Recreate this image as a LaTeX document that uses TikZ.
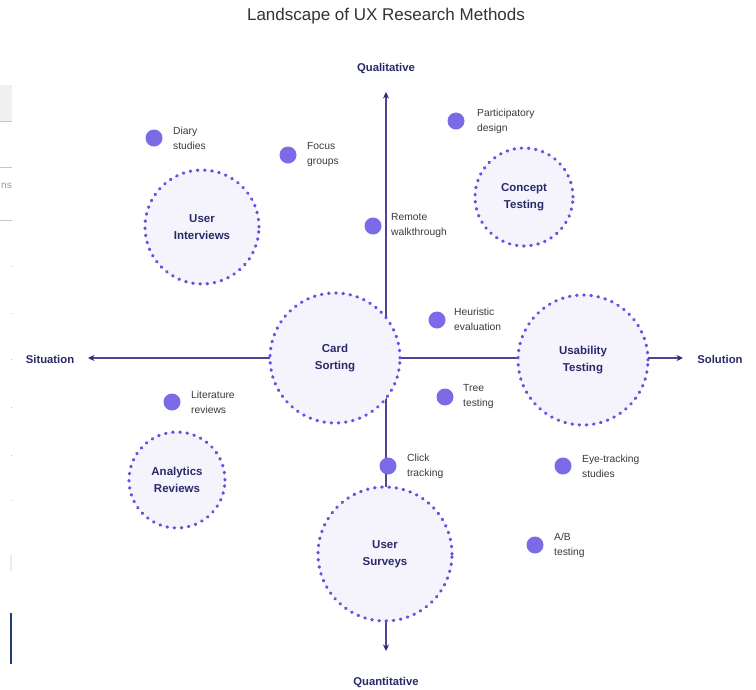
\documentclass[tikz,border=0pt]{standalone}
\usepackage{fontspec}
\setmainfont{Liberation Sans}
\usetikzlibrary{arrows.meta}
\definecolor{axiscol}{HTML}{4A4790}
\definecolor{tipcol}{HTML}{2A2A78}
\definecolor{navy}{HTML}{2A2A6A}
\definecolor{dotcol}{HTML}{7B6BE6}
\definecolor{ringcol}{HTML}{6650DE}
\definecolor{ringfill}{HTML}{F5F4FD}
\definecolor{smalltext}{HTML}{3A3A3A}
\definecolor{barcol}{HTML}{1F3A6E}
\tikzset{
  method/.style={circle, draw=ringcol, fill=ringfill, line width=3.2pt,
    dash pattern=on 0.6pt off 6.6pt, line cap=round, inner sep=0pt,
    font=\bfseries\fontsize{11.5}{17.5}\selectfont, text=navy, align=center},
  pin/.style={circle, fill=dotcol, minimum size=17pt, inner sep=0pt},
  pinlabel/.style={anchor=west, font=\fontsize{10.3}{15}\selectfont, text=smalltext, align=left, inner sep=0pt},
  axlabel/.style={font=\bfseries\fontsize{11.3}{13}\selectfont, text=navy},
  axisline/.style={draw=axiscol, line width=1.2pt,
    {Stealth[length=6.5pt,width=6pt,color=tipcol]}-{Stealth[length=6.5pt,width=6pt,color=tipcol]}},
  artifact/.style={draw=gray!45, line width=0.8pt}
}
\begin{document}
\begin{tikzpicture}[x=1pt,y=-1pt]
\useasboundingbox[fill=white] (0,0) rectangle (756,689);

% screenshot remnants at the left edge
\fill[gray!12] (0,85) rectangle (12,121);
\draw[artifact] (0,121) -- (12,121);
\draw[artifact] (0,167) -- (12,167);
\draw[artifact] (0,220) -- (12,220);
\node[anchor=east, inner sep=0pt, font=\fontsize{10}{12}\selectfont, text=gray!80] (frag) at (12,186) {ns};
\foreach \yy in {266,313,359,407,455,500}{\fill[gray!50] (10.5,\yy) rectangle (11.5,\yy+1);}
\fill[gray!15] (10,555) rectangle (12,571);
\fill[barcol] (9.5,613) rectangle (11.5,664);

% title
\node[font=\fontsize{17}{20}\selectfont, text=black!80] (title) at (386,16) {Landscape of UX Research Methods};

% axes
\coordinate (top) at (386,92);
\coordinate (bot) at (386,651);
\coordinate (lft) at (88,358);
\coordinate (rgt) at (683,358);
\draw[axisline] (bot) -- (top);
\draw[axisline] (lft) -- (rgt);

\node[axlabel] (qual) at (386,69) {Qualitative};
\node[axlabel] (quan) at (386,683) {Quantitative};
\node[axlabel] (sit) at (50,359) {Situation};
\node[axlabel] (sol) at (720,359) {Solution};

% method circles
\node[method, minimum size=114pt] (ui) at (202,227) {User\\Interviews};
\node[method, minimum size=98pt] (ct) at (524,197) {Concept\\Testing};
\node[method, minimum size=130pt] (cs) at (335,358) {Card\\Sorting};
\node[method, minimum size=130pt] (ut) at (583,360) {Usability\\Testing};
\node[method, minimum size=96pt] (ar) at (177,480) {Analytics\\Reviews};
\node[method, minimum size=134pt] (us) at (385,554) {User\\Surveys};

% small methods
\node[pin] (d1) at (154,138) {};
\node[pinlabel] (l1) at (173,138) {Diary\\studies};
\node[pin] (d2) at (288,155) {};
\node[pinlabel] (l2) at (307,155) {Focus\\groups};
\node[pin] (d3) at (373,226) {};
\node[pinlabel] (l3) at (391,226) {Remote\\walkthrough};
\node[pin] (d4) at (456,121) {};
\node[pinlabel] (l4) at (477,121) {Participatory\\design};
\node[pin] (d5) at (437,320) {};
\node[pinlabel] (l5) at (454,319) {Heuristic\\evaluation};
\node[pin] (d6) at (445,397) {};
\node[pinlabel] (l6) at (463,397) {Tree\\testing};
\node[pin] (d7) at (172,402) {};
\node[pinlabel] (l7) at (191,402) {Literature\\reviews};
\node[pin] (d8) at (388,466) {};
\node[pinlabel] (l8) at (407,466) {Click\\tracking};
\node[pin] (d9) at (563,466) {};
\node[pinlabel] (l9) at (582,466) {Eye-tracking\\studies};
\node[pin] (d10) at (535,545) {};
\node[pinlabel] (l10) at (554,545) {A/B\\testing};
\end{tikzpicture}
\end{document}
